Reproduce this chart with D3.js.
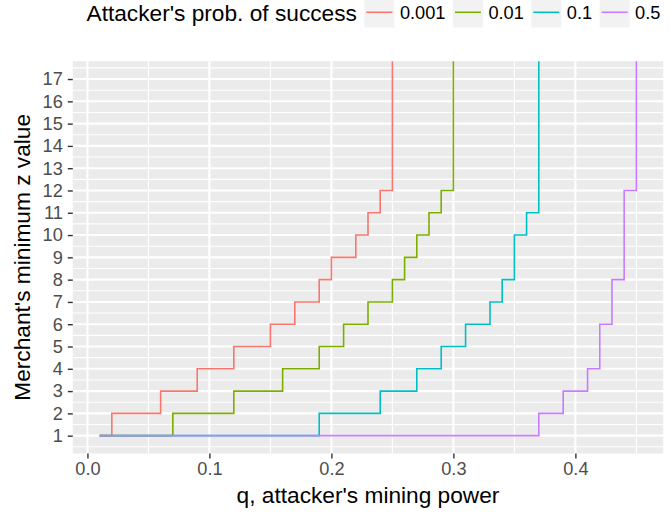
<!DOCTYPE html>
<html>
<head>
<meta charset="utf-8">
<script src="https://cdn.jsdelivr.net/npm/d3@7"></script>
<style>
  html, body { margin: 0; padding: 0; background: #fff; }
  svg { display: block; font-family: "Liberation Sans", Arial, Helvetica, sans-serif; }
</style>
</head>
<body>
<svg id="chart" width="670" height="516"></svg>
<script>
// ---- data ----
const seriesNames = ["0.001", "0.01", "0.1", "0.5"];
const seriesColors = ["#F8766D", "#7CAE00", "#00BFC4", "#C77CFF"];
// q values where z changes, and z values (step "hv"); last value is off the top of the chart (estimate)
const q001 = [0.01, 0.02, 0.06, 0.09, 0.12, 0.15, 0.17, 0.19, 0.20, 0.22, 0.23, 0.24, 0.25];
const z001 = [1,    2,    3,    4,    5,    6,    7,    8,    9,    10,   11,   12,   24];
const q01  = [0.01, 0.07, 0.12, 0.16, 0.19, 0.21, 0.23, 0.25, 0.26, 0.27, 0.28, 0.29, 0.30];
const z01  = [1,    2,    3,    4,    5,    6,    7,    8,    9,    10,   11,   12,   24];
const q1   = [0.01, 0.19, 0.24, 0.27, 0.29, 0.31, 0.33, 0.34, 0.35, 0.36, 0.37];
const z1   = [1,    2,    3,    4,    5,    6,    7,    8,    10,   11,   24];
const q5   = [0.01, 0.37, 0.39, 0.41, 0.42, 0.43, 0.44, 0.45];
const z5   = [1,    2,    3,    4,    6,    8,    12,   24];
const xTicks = [0.0, 0.1, 0.2, 0.3, 0.4];
const xMinor = [0.05, 0.15, 0.25, 0.35, 0.45];
const yTicks = [1,2,3,4,5,6,7,8,9,10,11,12,13,14,15,16,17];
const yMinor = [0.5,1.5,2.5,3.5,4.5,5.5,6.5,7.5,8.5,9.5,10.5,11.5,12.5,13.5,14.5,15.5,16.5,17.5];
const xLimits = [0.01, 0.45];
const yLimits = [1, 17];
const xTitle = "q, attacker's mining power";
const yTitle = "Merchant's minimum z value";
const legendTitle = "Attacker's prob. of success";

const seriesQ = [q001, q01, q1, q5];
const seriesZ = [z001, z01, z1, z5];
const series = seriesNames.map((n, i) => ({
  name: n, color: seriesColors[i],
  values: seriesQ[i].map((q, j) => ({ q, z: seriesZ[i][j] }))
}));

// ---- layout ----
const svg = d3.select("#chart");
const panel = { left: 72.8, right: 663.2, top: 61.2, bottom: 453.5 };
const xExp = (xLimits[1] - xLimits[0]) * 0.05;
const yExp = (yLimits[1] - yLimits[0]) * 0.05;
const x = d3.scaleLinear().domain([xLimits[0] - xExp, xLimits[1] + xExp]).range([panel.left, panel.right]);
const y = d3.scaleLinear().domain([yLimits[0] - yExp, yLimits[1] + yExp]).range([panel.bottom, panel.top]);

// panel background
svg.append("rect")
  .attr("x", panel.left).attr("y", panel.top)
  .attr("width", panel.right - panel.left).attr("height", panel.bottom - panel.top)
  .attr("fill", "#EBEBEB");

const grid = svg.append("g");
// minor grid
grid.selectAll(".vminor").data(xMinor).enter().append("line")
  .attr("x1", d => x(d)).attr("x2", d => x(d))
  .attr("y1", panel.top).attr("y2", panel.bottom)
  .attr("stroke", "#fff").attr("stroke-width", 1.1);
grid.selectAll(".hminor").data(yMinor).enter().append("line")
  .attr("y1", d => y(d)).attr("y2", d => y(d))
  .attr("x1", panel.left).attr("x2", panel.right)
  .attr("stroke", "#fff").attr("stroke-width", 1.1);
// major grid
grid.selectAll(".vmajor").data(xTicks).enter().append("line")
  .attr("x1", d => x(d)).attr("x2", d => x(d))
  .attr("y1", panel.top).attr("y2", panel.bottom)
  .attr("stroke", "#fff").attr("stroke-width", 2.1);
grid.selectAll(".hmajor").data(yTicks).enter().append("line")
  .attr("y1", d => y(d)).attr("y2", d => y(d))
  .attr("x1", panel.left).attr("x2", panel.right)
  .attr("stroke", "#fff").attr("stroke-width", 2.1);

// clip
svg.append("clipPath").attr("id", "clip").append("rect")
  .attr("x", panel.left).attr("y", panel.top)
  .attr("width", panel.right - panel.left).attr("height", panel.bottom - panel.top);

const line = d3.line().x(d => x(d.q)).y(d => y(d.z)).curve(d3.curveStepAfter);
svg.append("g").attr("clip-path", "url(#clip)")
  .selectAll("path").data(series).enter().append("path")
  .attr("d", d => line(d.values))
  .attr("fill", "none")
  .attr("stroke", d => d.color)
  .attr("stroke-width", 1.6);

// axes
const xAxis = d3.axisBottom(x).tickValues(xTicks).tickFormat(d3.format(".1f")).tickSize(5).tickPadding(4);
const gx = svg.append("g").attr("transform", `translate(0,${panel.bottom})`).call(xAxis);
const yAxis = d3.axisLeft(y).tickValues(yTicks).tickFormat(d3.format("d")).tickSize(5).tickPadding(5);
const gy = svg.append("g").attr("transform", `translate(${panel.left},0)`).call(yAxis);
[gx, gy].forEach(g => {
  g.select(".domain").remove();
  g.selectAll(".tick line").attr("stroke", "#333333").attr("stroke-width", 1.4);
  g.selectAll(".tick text").attr("fill", "#4D4D4D").style("font-size", "18.2px")
    .style("font-family", "'Liberation Sans', Arial, sans-serif");
});
gx.selectAll(".tick text").attr("dy", "0.71em");

// axis titles
svg.append("text")
  .attr("x", (panel.left + panel.right) / 2).attr("y", 503)
  .attr("text-anchor", "middle").attr("fill", "#000")
  .style("font-size", "22.7px").text(xTitle);
svg.append("text")
  .attr("transform", `translate(30,${(panel.top + panel.bottom) / 2}) rotate(-90)`)
  .attr("text-anchor", "middle").attr("fill", "#000")
  .style("font-size", "22.7px").text(yTitle);

// legend
const lg = svg.append("g");
const lt = lg.append("text").attr("x", 86.5).attr("y", 21)
  .attr("fill", "#000").style("font-size", "22.7px").text(legendTitle);
let cx = 86.5 + lt.node().getComputedTextLength() + 7.5;
series.forEach(s => {
  lg.append("rect").attr("x", cx).attr("y", -2.5).attr("width", 30).attr("height", 30).attr("fill", "#F2F2F2");
  lg.append("line").attr("x1", cx + 2).attr("x2", cx + 28).attr("y1", 12.3).attr("y2", 12.3)
    .attr("stroke", s.color).attr("stroke-width", 1.6);
  const t = lg.append("text").attr("x", cx + 35.5).attr("y", 19.3)
    .attr("fill", "#000").style("font-size", "18.2px").text(s.name);
  cx = cx + 35.5 + t.node().getComputedTextLength() + 7.5;
});
</script>
</body>
</html>
